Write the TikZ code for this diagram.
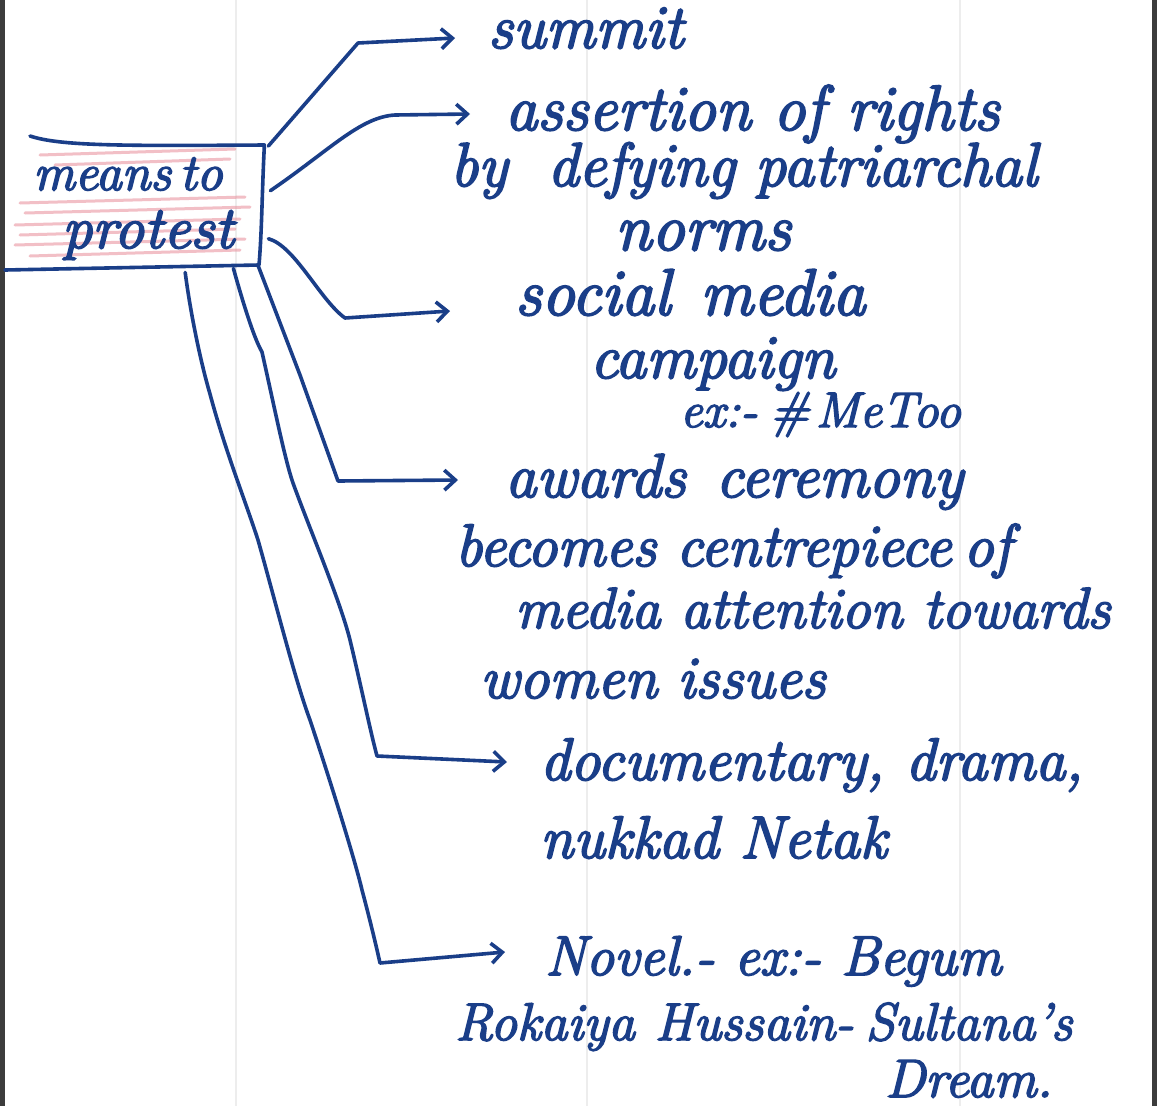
\documentclass[tikz,border=0pt]{standalone}
\usepackage{fontspec}
\setmainfont{Latin Modern Roman}[ItalicFeatures={FakeBold=3}]
\usetikzlibrary{arrows.meta,calc}
\definecolor{ink}{RGB}{26,62,136}
\definecolor{marker}{RGB}{232,140,152}
\definecolor{edge}{RGB}{60,60,60}
\begin{document}
\begin{tikzpicture}[x=1pt,y=-1pt,
  inkline/.style={draw=ink,line width=3.6pt,line cap=round,line join=round},
  link/.style={inkline,-{Straight Barb[length=11pt,width=20pt]}},
  note/.style={anchor=base west,inner sep=0pt,text=ink,
    font=\fontsize{#1}{#1}\selectfont\itshape},
  rule/.style={draw=gray!14,line width=1.2pt}]
\useasboundingbox (0,0) rectangle (1157,1106);
\fill[white] (0,0) rectangle (1157,1106);
% faint ruling of the page and its dark edges
\foreach \x in {236,587,960} \draw[rule] (\x,0) -- (\x,1106);
\draw[edge,line width=5pt] (2,0) -- (2,1106);
\draw[edge,line width=5pt] (1154,0) -- (1154,1106);

% highlighted box
\node[minimum width=258pt,minimum height=123pt,inner sep=0pt,anchor=north west] (box) at (6,145) {};
\foreach \y/\a/\b in {152/40/235,162/55/230,200/20/245,210/25/250,222/15/240,232/20/235,242/15/245,253/30/240}
  \draw[marker,line width=3pt,opacity=.55,line cap=round] (\a,\y+3) -- (\b,\y-3);
\draw[inkline] (30,136) .. controls (60,146) and (120,146) .. (box.north east)
  .. controls (262,190) and (262,230) .. (259,265) -- (5,270);
\node[note=52] (means) at (33,190) {means\,to};
\node[note=60] (protest) at (62,248) {protest};

% labels
\node[note=62] (summit) at (488,48) {summit};
\node[note=64] (assert) at (505,130) {assertion of rights};
\node[note=62] (defy) at (450,186) {by\hspace{40pt}defying\hspace{20pt}patriarchal};
\node[note=66] (norms) at (615,250) {norms};
\node[note=66] (social) at (515,315) {social\hspace{30pt}media};
\node[note=62] (campaign) at (590,378) {campaign};
\node[note=50] (metoo) at (680,427) {ex:-\hspace{12pt}\#\hspace{6pt}MeToo};
\node[note=62] (awards) at (505,497) {awards\hspace{30pt}ceremony};
\node[note=60] (centre) at (455,566) {becomes\hspace{20pt}centrepiece\hspace{12pt}of};
\node[note=58] (media) at (515,628) {media attention towards};
\node[note=60] (women) at (480,698) {women\hspace{20pt}issues};
\node[note=60] (docu) at (540,780) {documentary, drama,};
\node[note=60] (nukkad) at (540,858) {nukkad Netak};
\node[note=56] (novel) at (545,975) {Novel.- ex:-\hspace{20pt}Begum};
\node[note=53] (rokaiya) at (455,1040) {Rokaiya\hspace{20pt}Hussain-\hspace{12pt}Sultana's};
\node[note=54] (dream) at (885,1097) {Dream.};

% connectors
\draw[link] ($(box.north east)+(4,1)$) -- (358,43) -- ($(summit.base west)+(-33,-10)$);
\draw[link] ($(box.east)+(6,-16)$) .. controls (330,150) and (360,117) .. (395,115)
  -- ($(assert.base west)+(-35,-16)$);
\draw[link] ($(box.east)+(4,32)$) .. controls (295,246) and (320,300) .. (345,318)
  -- ($(social.base west)+(-65,-4)$);
\draw[link] ($(box.south east)+(-6,-2)$) -- (300,375) -- (338,481)
  -- ($(awards.base west)+(-47,-17)$);
\draw[link] ($(box.south east)+(-31,0)$) .. controls (245,310) and (255,340) .. (262,352)
  .. controls (275,410) and (285,460) .. (293,483)
  .. controls (310,530) and (340,600) .. (350,640)
  .. controls (362,690) and (370,730) .. (377,756)
  -- ($(docu.base west)+(-33,-18)$);
\draw[link] ($(box.south)+(50,4)$) .. controls (190,310) and (200,360) .. (210,394)
  .. controls (225,450) and (245,500) .. (258,540)
  .. controls (275,600) and (295,680) .. (310,720)
  .. controls (330,780) and (355,860) .. (362,890)
  .. controls (370,920) and (376,945) .. (380,963)
  -- ($(novel.base west)+(-40,-23)$);
\end{tikzpicture}
\end{document}
